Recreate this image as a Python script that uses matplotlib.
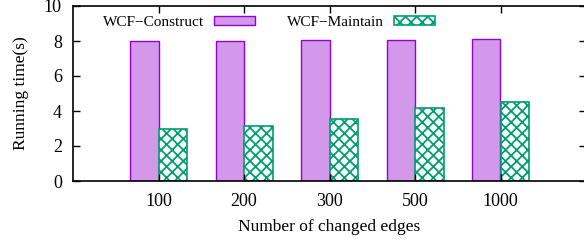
import matplotlib
matplotlib.use("Agg")
import matplotlib.pyplot as plt
import numpy as np

categories = ["100", "200", "300", "500", "1000"]
construct = [8.0, 8.0, 8.03, 8.04, 8.11]
maintain = [3.0, 3.14, 3.52, 4.15, 4.5]

plt.rcParams['font.family'] = ['Liberation Serif']
plt.rcParams['hatch.linewidth'] = 1.3

fig = plt.figure(figsize=(5.84, 2.4), dpi=100)
ax = fig.add_axes([73/584, 59/240, 513/584, 175/240])

x = np.arange(1, len(categories) + 1)
w = 1/3
ax.bar(x - w/2, construct, w, color='#d498ea', edgecolor='#9400d3', linewidth=1.0,
       label='WCF\u2212Construct')
ax.bar(x + w/2, maintain, w, color='white', edgecolor='#009e73', hatch='xxx', linewidth=1.2,
       label='WCF\u2212Maintain')

ax.set_xlim(0, 6)
ax.set_ylim(0, 10)
ax.set_xticks(x)
ax.set_xticklabels(categories)
ax.set_yticks([0, 2, 4, 6, 8, 10])
ax.tick_params(axis='both', direction='in', labelsize=13, length=5, width=1,
               top=True, right=True, pad=8)
ax.tick_params(axis='x', pad=9)
for s in ax.spines.values():
    s.set_linewidth(1.2)

ax.set_xlabel('Number of changed edges', fontsize=12.5, labelpad=6)
ax.set_ylabel('Running time(s)', fontsize=12.5, labelpad=11)

leg = ax.legend(ncol=2, loc='upper left', bbox_to_anchor=(0.031, 1.02), frameon=False,
                fontsize=11, markerfirst=False, handlelength=2.7, handleheight=0.5,
                columnspacing=2.1, handletextpad=0.65)

fig.savefig('out.png', dpi=100)
